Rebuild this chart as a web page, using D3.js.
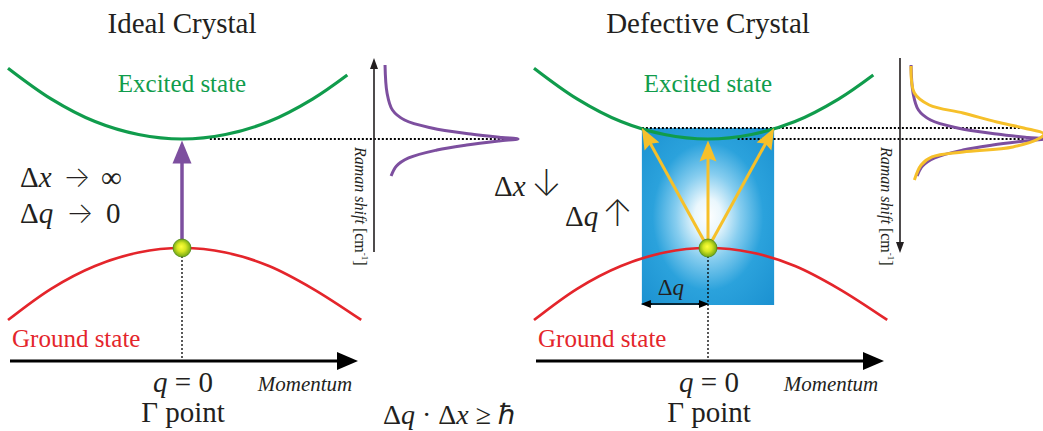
<!DOCTYPE html>
<html>
<head>
<meta charset="utf-8">
<script src="https://cdn.jsdelivr.net/npm/d3@7"></script>
<style>
  body { margin: 0; background: #fff; }
  svg { display: block; }
  text { font-family: "Liberation Serif", "Times New Roman", serif; fill: #231f20; }
  .sym { font-family: "Inter", "DejaVu Sans", sans-serif; font-weight: 200; }
</style>
</head>
<body>
<svg id="chart" width="1043" height="431"></svg>
<script>
// Band dispersion: [momentum q (reduced units), energy (ground maximum = 0, excited minimum = 1)]
const excitedBand = [[-1, 1.65], [-0.75, 1.366], [-0.5, 1.16], [-0.25, 1.041], [0, 1],
                     [0.25, 1.041], [0.5, 1.16], [0.75, 1.366], [0.95, 1.587]];
const groundBand  = [[-1, -0.661], [-0.75, -0.372], [-0.5, -0.165], [-0.25, -0.041], [0, 0],
                     [0.25, -0.041], [0.5, -0.165], [0.75, -0.372], [1.03, -0.66]];

// Raman line shapes: [Raman shift (energy units), normalised intensity]
const idealSpectrum = [[1.679, 0.015], [1.422, 0.03], [1.266, 0.07], [1.174, 0.16], [1.101, 0.36],
                       [1.046, 0.65], [1.014, 0.88], [1.0, 1.0], [0.982, 0.86], [0.945, 0.62],
                       [0.899, 0.40], [0.826, 0.19], [0.752, 0.10], [0.661, 0.06]];
const defectSpectrum = [[1.670, 0.015], [1.422, 0.04], [1.312, 0.15], [1.239, 0.40], [1.156, 0.65],
                        [1.101, 0.85], [1.046, 1.0], [1.009, 0.97], [0.927, 0.77], [0.881, 0.40],
                        [0.835, 0.17], [0.761, 0.09], [0.624, 0.04]];

// Momentum spread allowed by the finite coherence length in the defective crystal
const deltaQ = 0.38;
const transitionQ = [-deltaQ, 0, deltaQ];
const transitionE = [1.1, 1, 1.1];

const titles = ["Ideal Crystal", "Defective Crystal"];

const C = {
  green: "#109c4c", red: "#e4252b", purple: "#7d4f9f", yellow: "#f6c02a",
  blue: "#1b96d4", ink: "#231f20"
};

const svg = d3.select("#chart");
const defs = svg.append("defs");

const boxGrad = defs.append("radialGradient").attr("id", "glow")
  .attr("cx", 0.5).attr("cy", 0.5).attr("r", 0.72);
[[0, "#ffffff"], [0.14, "#eaf7fd"], [0.34, "#86cdef"], [0.58, "#2ba2dc"], [1, "#1a90d0"]]
  .forEach(([o, c]) => boxGrad.append("stop").attr("offset", o).attr("stop-color", c));

const ballGrad = defs.append("radialGradient").attr("id", "ball")
  .attr("cx", 0.5).attr("cy", 0.5).attr("r", 0.55).attr("fx", 0.45).attr("fy", 0.42);
[[0, "#ffff3c"], [0.45, "#d4e622"], [1, "#5f9a12"]]
  .forEach(([o, c]) => ballGrad.append("stop").attr("offset", o).attr("stop-color", c));

function arrow(g, x1, y1, x2, y2, color, width, len, half, notch = 0) {
  const a = Math.atan2(y2 - y1, x2 - x1), ca = Math.cos(a), sa = Math.sin(a);
  const bx = x2 - len * ca, by = y2 - len * sa;
  g.append("line").attr("x1", x1).attr("y1", y1)
    .attr("x2", bx + len * 0.3 * ca).attr("y2", by + len * 0.3 * sa)
    .attr("stroke", color).attr("stroke-width", width);
  const nx = bx + notch * len * ca, ny = by + notch * len * sa;
  g.append("path")
    .attr("d", `M${x2},${y2}L${bx + half * sa},${by - half * ca}L${nx},${ny}L${bx - half * sa},${by + half * ca}Z`)
    .attr("fill", color);
}

const energyY = d3.scaleLinear().domain([0, 1]).range([248, 139]);
const axisY = 361;

titles.forEach((title, i) => {
  const cx = i === 0 ? 182 : 708;
  const g = svg.append("g");
  const qx = d3.scaleLinear().domain([-1, 1]).range([cx - 174, cx + 174]);
  const ix = d3.scaleLinear().domain([0, 1]).range([cx + 201, cx + 336]);
  const line = d3.line().x(d => qx(d[0])).y(d => energyY(d[1])).curve(d3.curveCatmullRom);
  const specLine = d3.line().x(d => ix(d[1])).y(d => energyY(d[0])).curve(d3.curveCatmullRom);

  // uncertainty box for the defective crystal
  if (i === 1) {
    g.append("rect")
      .attr("x", qx(-deltaQ)).attr("y", energyY(transitionE[0]))
      .attr("width", qx(deltaQ) - qx(-deltaQ))
      .attr("height", energyY(-0.523) - energyY(transitionE[0]))
      .attr("fill", "url(#glow)");
  }

  // dotted guides from the excited-state minimum to the Raman peak
  const dots = (xa, xb, y) => g.append("line").attr("x1", xa).attr("x2", xb)
    .attr("y1", y).attr("y2", y).attr("stroke", "#000").attr("stroke-width", 2)
    .attr("stroke-dasharray", "2,2");
  if (i === 0) {
    dots(qx(0.16), ix(1), energyY(1));
  } else {
    dots(qx(0.17), ix(0.86), energyY(1));
    dots(qx(-deltaQ), ix(0.86), energyY(transitionE[0]));
  }

  // vertical dotted line from the Γ point down to the momentum axis
  g.append("line").attr("x1", qx(0)).attr("x2", qx(0))
    .attr("y1", energyY(0)).attr("y2", axisY)
    .attr("stroke", "#000").attr("stroke-width", 1.3).attr("stroke-dasharray", "2,2");

  // bands
  g.append("path").attr("d", line(excitedBand)).attr("fill", "none")
    .attr("stroke", C.green).attr("stroke-width", 3.2);
  g.append("path").attr("d", line(groundBand)).attr("fill", "none")
    .attr("stroke", C.red).attr("stroke-width", 2.7);

  // momentum axis
  arrow(g, cx - 172, axisY, cx + 176, axisY, "#000", 3, 21, 9);

  // transitions
  if (i === 0) {
    arrow(g, qx(0), energyY(0), qx(0), energyY(1) + 1.5, C.purple, 3.5, 23, 9.5);
  } else {
    transitionQ.forEach((q, k) => {
      arrow(g, qx(0), energyY(0), qx(q), energyY(transitionE[k]) + (k === 1 ? 1.5 : 0),
        C.yellow, 3, 21, 8.5, 0.15);
    });
    // Δq span
    const yq = 304;
    g.append("line").attr("x1", qx(-deltaQ) + 4).attr("x2", qx(0) - 4)
      .attr("y1", yq).attr("y2", yq).attr("stroke", "#000").attr("stroke-width", 1.5);
    arrow(g, qx(-deltaQ) + 10, yq, qx(-deltaQ) - 1, yq, "#000", 1.5, 10, 4);
    arrow(g, qx(0) - 10, yq, qx(0) + 1, yq, "#000", 1.5, 10, 4);
    const t = g.append("text").attr("x", qx(-deltaQ / 2) - 4).attr("y", 295)
      .attr("text-anchor", "middle").attr("font-size", 23);
    t.append("tspan").text("Δ");
    t.append("tspan").attr("font-style", "italic").text("q");
  }

  // phonon at q = 0
  g.append("circle").attr("cx", qx(0)).attr("cy", energyY(0)).attr("r", 9)
    .attr("fill", "url(#ball)").attr("stroke", "#4f8a14").attr("stroke-width", 0.8);

  // Raman spectrum axis
  const rx = cx + 192;
  if (i === 0) arrow(g, rx, 252, rx, 58, C.ink, 1.6, 11, 4);
  else arrow(g, rx, 58, rx, 253, C.ink, 1.6, 11, 4);

  // spectra
  g.append("path").attr("d", specLine(idealSpectrum)).attr("fill", "none")
    .attr("stroke", C.purple).attr("stroke-width", 3);
  if (i === 1) {
    g.append("path").attr("d", specLine(defectSpectrum)).attr("fill", "none")
      .attr("stroke", C.yellow).attr("stroke-width", 3);
  }

  const lab = g.append("text")
    .attr("transform", `translate(${rx - 19},147) rotate(90)`)
    .attr("font-size", 16);
  lab.append("tspan").attr("font-style", "italic").text("Raman shift");
  lab.append("tspan").text(" [cm");
  lab.append("tspan").attr("font-size", 9).attr("dy", -7).text("-1");
  lab.append("tspan").attr("dy", 7).text("]");

  // labels
  g.append("text").attr("x", cx).attr("y", 33).attr("text-anchor", "middle")
    .attr("font-size", 29).text(title);
  g.append("text").attr("x", cx).attr("y", 92).attr("text-anchor", "middle")
    .attr("font-size", 25).style("fill", C.green).text("Excited state");
  g.append("text").attr("x", cx - 170).attr("y", 347)
    .attr("font-size", 25).style("fill", C.red).text("Ground state");

  const q0 = g.append("text").attr("x", cx + 1).attr("y", 392).attr("text-anchor", "middle")
    .attr("font-size", 29);
  q0.append("tspan").attr("font-style", "italic").text("q");
  q0.append("tspan").text(" = 0");
  g.append("text").attr("x", cx + 1).attr("y", 422).attr("text-anchor", "middle")
    .attr("font-size", 29).text("Γ point");
  g.append("text").attr("x", cx + 123).attr("y", 391).attr("text-anchor", "middle")
    .attr("font-size", 21).attr("font-style", "italic").text("Momentum");
});

// uncertainty statements; parts are [string, italic?, x position, symbol font size]
function mathText(y, parts, size) {
  const t = svg.append("text").attr("y", y).attr("font-size", size);
  parts.forEach(([s, it, x, sym]) => {
    const sp = t.append("tspan").text(s);
    if (x != null) sp.attr("x", x);
    if (it) sp.attr("font-style", "italic");
    if (sym) sp.attr("class", "sym").attr("font-size", sym);
  });
  return t;
}
mathText(187, [["Δ", 0, 20], ["x", 1], ["→", 0, 63, 29], ["∞", 0, 101]], 29);
mathText(223, [["Δ", 0, 20], ["q", 1], ["→", 0, 66, 29], ["0", 0, 106]], 29);
mathText(196, [["Δ", 0, 494], ["x", 1], ["↓", 0, 531, 37]], 29);
mathText(226, [["Δ", 0, 565], ["q", 1], ["↑", 0, 602, 37]], 29);
mathText(424, [["Δ", 0, 383], ["q", 1], [" · Δ"], ["x", 1], [" ≥ ℏ"]], 28);
</script>
</body>
</html>
